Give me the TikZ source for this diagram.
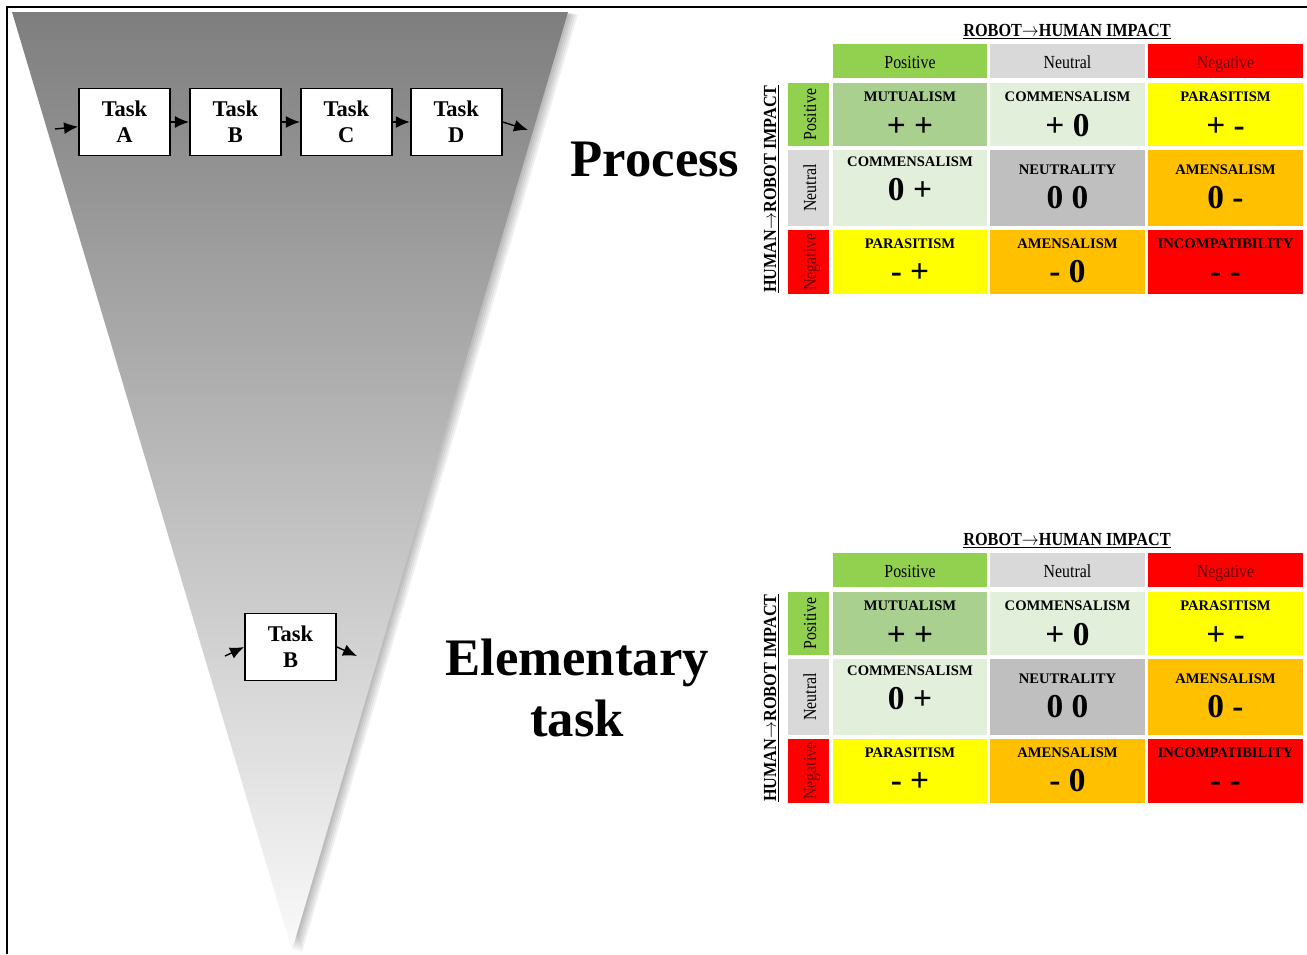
\documentclass[tikz,border=0pt]{standalone}
\usepackage{fontspec}
\setmainfont{Liberation Serif}
\usepackage{xcolor}
\usepackage{tikz}
\usetikzlibrary{positioning}
\usetikzlibrary{arrows.meta}

\definecolor{gtop}{RGB}{126,126,126}
\definecolor{gbot}{RGB}{250,250,250}
\definecolor{posgreen}{HTML}{92D050}
\definecolor{mutcol}{HTML}{A9D08E}
\definecolor{comcol}{HTML}{E2EFDA}
\definecolor{neuhead}{HTML}{D9D9D9}
\definecolor{neucol}{HTML}{BFBFBF}
\definecolor{amecol}{HTML}{FFC000}
\definecolor{parcol}{HTML}{FFFF00}
\definecolor{negred}{HTML}{FF0000}
\definecolor{negtext}{HTML}{6A0000}

\tikzset{
  task/.style={draw, line width=1.1pt, fill=white, minimum width=1.82cm, minimum height=1.34cm,
    inner sep=0pt, align=center, font=\fontsize{12.8}{14.7}\selectfont\bfseries},
  flow/.style={-{Latex[length=2.8mm,width=2.4mm]}, line width=0.8pt},
  level/.style={font=\fontsize{30}{34.6}\selectfont\bfseries, align=center},
  ttl/.style={font=\fontsize{10.5}{12}\selectfont\bfseries, inner sep=0pt, xscale=0.88},
  hdr/.style={font=\fontsize{10.5}{12}\selectfont, inner sep=0pt, xscale=0.86},
  cname/.style={font=\fontsize{8.3}{10}\selectfont\bfseries, inner sep=0pt},
  csym/.style={font=\fontsize{19}{20}\selectfont\bfseries, inner sep=0pt}
}

\begin{document}
\begin{tikzpicture}[x=0.02cm, y=-0.02cm]
    \useasboundingbox (0,0) rectangle (1307,954);

    % Frame
    \draw[line width=1.1pt] (7,954) -- (7,7) -- (1307,7);

    % Funnel with its shadow
    \foreach \s in {1,...,5}
        \fill[black, opacity=0.06, shift={(\s*2,\s*0.5)}] (12,12) -- (568,12) -- (292,950) -- cycle;
    \shade[top color=gtop, bottom color=gbot] (12,12) -- (568,12) -- (292,950) -- cycle;

    % Process: chain of tasks
    \node[task] (A) at (124.5,122) {Task\\A};
    \node[task, right=0.36cm of A] (B) {Task\\B};
    \node[task, right=0.36cm of B] (C) {Task\\C};
    \node[task, right=0.34cm of C] (D) {Task\\D};
    \coordinate (pin) at (55,129);
    \coordinate (pout) at (528,130);
    \draw[flow] (pin) -- (A);
    \draw[flow] (A) -- (B);
    \draw[flow] (B) -- (C);
    \draw[flow] (C) -- (D);
    \draw[flow] (D.east) -- (pout);

    % Elementary task
    \node[task] (E) at (290.5,647) {Task\\B};
    \coordinate (ein) at (225,656);
    \coordinate (eout) at (357,656);
    \draw[flow] (ein) -- (E.west);
    \draw[flow] (E.east) -- (eout);

    % Level labels
    \node[level, anchor=base] (proc) at (655,176) {Process};
    \node[level, anchor=base] (elem) at (577,736) {Elementary\\task};

    % Impact matrices
    \foreach \m/\dy in {top/0, bot/509}{
      \begin{scope}[shift={(0,\dy)}]
        \node[ttl, anchor=base] (\m-rh) at (1067,36) {\underline{ROBOT$\rightarrow$HUMAN IMPACT}};
        \node[rotate=90, ttl, anchor=base] (\m-hr) at (776,189) {\underline{HUMAN$\rightarrow$ROBOT IMPACT}};

        % column heads
        \fill[posgreen] (833,44) rectangle (987,78);
        \fill[neuhead] (990,44) rectangle (1145,78);
        \fill[negred] (1148,44) rectangle (1303,78);
        \node[hdr, anchor=base] (\m-cp) at (910,68) {Positive};
        \node[hdr, anchor=base] (\m-cn) at (1067.5,68) {Neutral};
        \node[hdr, anchor=base, text=negtext] (\m-cm) at (1225.5,68) {Negative};

        % row heads
        \fill[posgreen] (788,83) rectangle (829,146);
        \fill[neuhead] (788,150) rectangle (829,226);
        \fill[negred] (788,230) rectangle (829,294);
        \node[rotate=90, hdr, anchor=base] (\m-rp) at (816,114.5) {Positive};
        \node[rotate=90, hdr, anchor=base] (\m-rn) at (816,188) {Neutral};
        \node[rotate=90, hdr, anchor=base, text=negtext] (\m-rm) at (816,262) {Negative};

        % cells
        \foreach \xa/\xb/\ya/\yb/\fc/\nm/\yn/\ys/\sy [count=\i] in {
            833/987/83/146/mutcol/MUTUALISM/101/136/+ +,
            990/1145/83/146/comcol/COMMENSALISM/101/136/+ 0,
            1148/1303/83/146/parcol/PARASITISM/101/136/+ -,
            833/987/150/226/comcol/COMMENSALISM/166/200/0 +,
            990/1145/150/226/neucol/NEUTRALITY/174/208/0 0,
            1148/1303/150/226/amecol/AMENSALISM/174/208/0 -,
            833/987/230/294/parcol/PARASITISM/248/282/- +,
            990/1145/230/294/amecol/AMENSALISM/248/282/- 0,
            1148/1303/230/294/negred/INCOMPATIBILITY/248/282/- -}{
          \fill[\fc] (\xa,\ya) rectangle (\xb,\yb);
          \node[cname, anchor=base] (\m-n\i) at ({(\xa+\xb)/2},\yn) {\nm};
          \node[csym, anchor=base] (\m-s\i) at ({(\xa+\xb)/2},\ys) {\sy};
        }
      \end{scope}
    }
\end{tikzpicture}
\end{document}
